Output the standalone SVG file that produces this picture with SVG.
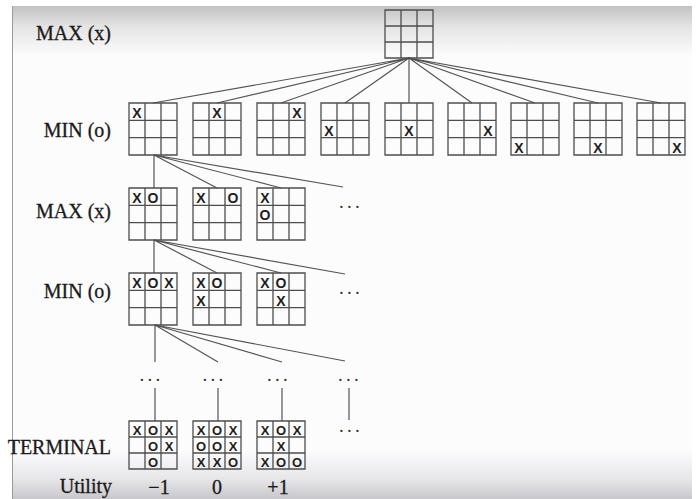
<svg xmlns="http://www.w3.org/2000/svg" xmlns:xlink="http://www.w3.org/1999/xlink" width="698" height="499" viewBox="0 0 698 499">
<style>
.lbl{font-family:"Liberation Serif","Times New Roman",serif;font-size:20px;fill:#1a1a1a;stroke:#1a1a1a;stroke-width:0.3;text-anchor:end}
.num{font-family:"Liberation Serif","Times New Roman",serif;font-size:20px;fill:#1a1a1a;stroke:#1a1a1a;stroke-width:0.3;text-anchor:middle}
.dots{font-family:"Liberation Serif","Times New Roman",serif;font-size:19px;fill:#333;letter-spacing:3.3px}
.m{font-family:"Liberation Sans",Arial,sans-serif;font-weight:bold;font-size:14px;fill:#1e1e1e;text-anchor:middle}
.t{font-family:"Liberation Sans",Arial,sans-serif;font-weight:bold;font-size:13px;fill:#1e1e1e;text-anchor:middle}
.grid{fill:none;stroke:#4d4d4d;stroke-width:1.3}
.edge{fill:none;stroke:#555;stroke-width:1.2}
</style>
<defs>
<linearGradient id="bg" x1="0" y1="0" x2="0" y2="1">
<stop offset="0" stop-color="#c2c2c2"/>
<stop offset="0.04" stop-color="#e3e3e3"/>
<stop offset="0.1" stop-color="#fdfcfd"/>
<stop offset="0.9" stop-color="#fdfcfd"/>
<stop offset="0.96" stop-color="#e6e5e8"/>
<stop offset="1" stop-color="#c8c7cb"/>
</linearGradient>
<path id="g48" class="grid" d="M0,0H48V48H0Z M16,0V48 M32,0V48 M0,16H48 M0,32H48"/>
<path id="g52" class="grid" d="M0,0H48V52H0Z M16,0V52 M32,0V52 M0,17.33H48 M0,34.67H48"/>
</defs>
<rect x="0" y="0" width="698" height="499" fill="#fff"/>
<rect x="12" y="6" width="680" height="493" fill="url(#bg)"/>
<line x1="12.5" y1="6" x2="12.5" y2="499" stroke="#9a9a9a" stroke-width="1"/>

<g id="labels">
<text class="lbl" x="111" y="40">MAX (x)</text>
<text class="lbl" x="111" y="137">MIN (o)</text>
<text class="lbl" x="111" y="218">MAX (x)</text>
<text class="lbl" x="111" y="298">MIN (o)</text>
<text class="lbl" x="111" y="454">TERMINAL</text>
<text class="lbl" x="112" y="493">Utility</text>
<text class="num" x="159" y="494">−1</text>
<text class="num" x="217" y="494">0</text>
<text class="num" x="278" y="494">+1</text>
</g>

<g id="connectors">
<path class="edge" d="M409,58L153,103 M409,58L217,103 M409,58L281,103 M409,58L345,103 M409,58L409,103 M409,58L472,103 M409,58L535,103 M409,58L598,103 M409,58L661,103"/>
<path class="edge" d="M154,155L154,188 M154,155L217,188 M154,155L281,188 M154,155L343,187"/>
<path class="edge" d="M154,240L154,273 M154,240L217,273 M154,240L281,273 M154,240L345,274"/>
<path class="edge" d="M155,325L155,362 M155,325L218,362 M155,325L282,362 M155,325L345,361"/>
<path class="edge" d="M155,388L155,421 M218,388L218,421 M282,388L282,421 M349,388L349,420"/>
</g>

<g id="root"><use href="#g48" x="385" y="10"/></g>

<g id="min1"><use href="#g52" x="129" y="103"/><text class="m" x="137" y="118.3">X</text></g>
<g id="min2"><use href="#g52" x="193" y="103"/><text class="m" x="217" y="118.3">X</text></g>
<g id="min3"><use href="#g52" x="257" y="103"/><text class="m" x="297" y="118.3">X</text></g>
<g id="min4"><use href="#g52" x="321" y="103"/><text class="m" x="329" y="135.7">X</text></g>
<g id="min5"><use href="#g52" x="385" y="103"/><text class="m" x="409" y="135.7">X</text></g>
<g id="min6"><use href="#g52" x="448" y="103"/><text class="m" x="488" y="135.7">X</text></g>
<g id="min7"><use href="#g52" x="511" y="103"/><text class="m" x="519" y="153">X</text></g>
<g id="min8"><use href="#g52" x="574" y="103"/><text class="m" x="598" y="153">X</text></g>
<g id="min9"><use href="#g52" x="637" y="103"/><text class="m" x="677" y="153">X</text></g>

<g id="max1"><use href="#g52" x="129" y="188"/><text class="m" x="137" y="203.3">X</text><text class="m" x="153" y="203.3">O</text></g>
<g id="max2"><use href="#g52" x="193" y="188"/><text class="m" x="201" y="203.3">X</text><text class="m" x="233" y="203.3">O</text></g>
<g id="max3"><use href="#g52" x="257" y="188"/><text class="m" x="265" y="203.3">X</text><text class="m" x="265" y="219.5">O</text></g>
<g id="maxmore"><text class="dots" x="339" y="208">...</text></g>

<g id="min2_1"><use href="#g52" x="129" y="273"/><text class="m" x="137" y="288.3">X</text><text class="m" x="153" y="288.3">O</text><text class="m" x="169" y="288.3">X</text></g>
<g id="min2_2"><use href="#g52" x="193" y="273"/><text class="m" x="201" y="288.3">X</text><text class="m" x="217" y="288.3">O</text><text class="m" x="201" y="305.7">X</text></g>
<g id="min2_3"><use href="#g52" x="257" y="273"/><text class="m" x="265" y="288.3">X</text><text class="m" x="281" y="288.3">O</text><text class="m" x="281" y="305.7">X</text></g>
<g id="minmore"><text class="dots" x="339" y="294">...</text></g>

<g id="mid1"><text class="dots" x="139.5" y="381">...</text></g>
<g id="mid2"><text class="dots" x="202.5" y="381">...</text></g>
<g id="mid3"><text class="dots" x="267" y="381">...</text></g>
<g id="mid4"><text class="dots" x="338" y="381">...</text></g>

<g id="term1"><use href="#g48" x="129" y="421"/>
<text class="t" x="137" y="435">X</text><text class="t" x="153" y="435">O</text><text class="t" x="169" y="435">X</text>
<text class="t" x="153" y="451">O</text><text class="t" x="169" y="451">X</text>
<text class="t" x="153" y="467">O</text></g>
<g id="term2"><use href="#g48" x="193" y="421"/>
<text class="t" x="201" y="435">X</text><text class="t" x="217" y="435">O</text><text class="t" x="233" y="435">X</text>
<text class="t" x="201" y="451">O</text><text class="t" x="217" y="451">O</text><text class="t" x="233" y="451">X</text>
<text class="t" x="201" y="467">X</text><text class="t" x="217" y="467">X</text><text class="t" x="233" y="467">O</text></g>
<g id="term3"><use href="#g48" x="257" y="421"/>
<text class="t" x="265" y="435">X</text><text class="t" x="281" y="435">O</text><text class="t" x="297" y="435">X</text>
<text class="t" x="281" y="451">X</text>
<text class="t" x="265" y="467">X</text><text class="t" x="281" y="467">O</text><text class="t" x="297" y="467">O</text></g>
<g id="termmore"><text class="dots" x="339" y="432">...</text></g>
</svg>
